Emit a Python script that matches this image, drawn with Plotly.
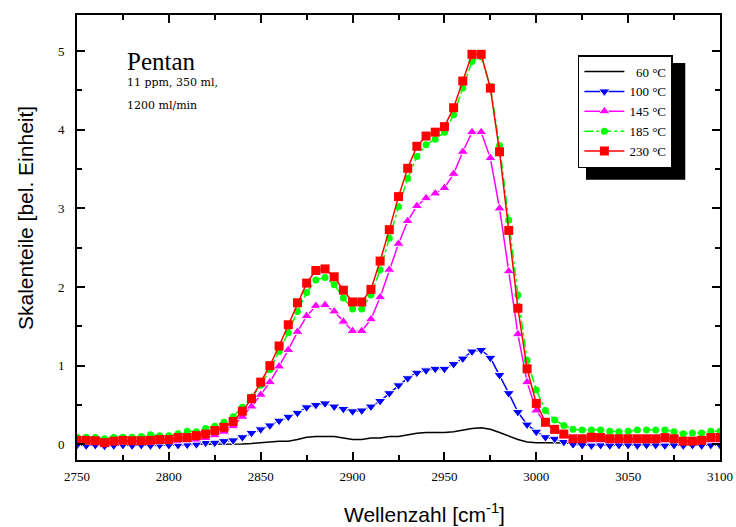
import plotly.graph_objects as go

wavenumber = [2750, 2755, 2760, 2765, 2770, 2775, 2780, 2785, 2790, 2795,
              2800, 2805, 2810, 2815, 2820, 2825, 2830, 2835, 2840, 2845,
              2850, 2855, 2860, 2865, 2870, 2875, 2880, 2885, 2890, 2895,
              2900, 2905, 2910, 2915, 2920, 2925, 2930, 2935, 2940, 2945,
              2950, 2955, 2960, 2965, 2970, 2975, 2980, 2985, 2990, 2995,
              3000, 3005, 3010, 3015, 3020, 3025, 3030, 3035, 3040, 3045,
              3050, 3055, 3060, 3065, 3070, 3075, 3080, 3085, 3090, 3095, 3100]

t60 = [0, 0, 0, 0, 0, 0, 0, 0, 0, 0,
       0, 0, 0, 0, 0, 0, 0, 0, 0.005, 0.01,
       0.02, 0.03, 0.04, 0.04, 0.06, 0.09, 0.10, 0.10, 0.10, 0.08,
       0.06, 0.06, 0.08, 0.08, 0.10, 0.10, 0.12, 0.14, 0.15, 0.15,
       0.15, 0.16, 0.18, 0.20, 0.21, 0.19, 0.15, 0.10, 0.06, 0.03,
       0.02, 0.02, 0.02, 0.02, 0.015, 0.01, 0.01, 0.01, 0.01, 0.01,
       0.01, 0.01, 0.01, 0.01, 0.01, 0.01, 0.01, 0.01, 0.01, 0.01, 0.01]

t100 = [-0.01, -0.015, -0.01, -0.02, -0.015, -0.01, -0.015, -0.01, -0.015, -0.01,
        -0.01, -0.01, -0.005, 0.0, 0.02, 0.02, 0.04, 0.05, 0.09, 0.145,
        0.19, 0.24, 0.30, 0.35, 0.40, 0.47, 0.50, 0.52, 0.48, 0.45,
        0.42, 0.43, 0.48, 0.55, 0.65, 0.75, 0.84, 0.91, 0.94, 0.96,
        0.96, 1.02, 1.09, 1.18, 1.20, 1.10, 0.88, 0.65, 0.41, 0.25,
        0.16, 0.09, 0.07, 0.03, 0.0, -0.01, -0.015, -0.01, -0.015, -0.01,
        -0.01, -0.015, -0.01, -0.01, -0.015, -0.01, -0.015, -0.01, -0.015, -0.01, -0.01]

t145 = [0.03, 0.03, 0.03, 0.02, 0.03, 0.03, 0.03, 0.03, 0.035, 0.035,
        0.04, 0.045, 0.05, 0.06, 0.08, 0.115, 0.16, 0.23, 0.35, 0.48,
        0.63, 0.79, 0.99, 1.20, 1.43, 1.63, 1.76, 1.77, 1.69, 1.56,
        1.44, 1.44, 1.59, 1.87, 2.22, 2.55, 2.84, 3.03, 3.13, 3.19,
        3.26, 3.44, 3.72, 3.97, 3.97, 3.64, 3.00, 2.20, 1.40, 0.79,
        0.43, 0.26, 0.18, 0.11, 0.07, 0.06, 0.05, 0.05, 0.05, 0.05,
        0.05, 0.05, 0.05, 0.05, 0.05, 0.05, 0.04, 0.04, 0.04, 0.05, 0.05]

t185 = [0.09, 0.09, 0.085, 0.07, 0.085, 0.09, 0.09, 0.10, 0.12, 0.11,
        0.11, 0.135, 0.165, 0.16, 0.20, 0.23, 0.28, 0.35, 0.47, 0.60,
        0.75, 0.95, 1.18, 1.42, 1.69, 1.93, 2.09, 2.12, 2.03, 1.86,
        1.72, 1.72, 1.90, 2.22, 2.62, 3.02, 3.38, 3.66, 3.81, 3.88,
        3.97, 4.19, 4.53, 4.87, 4.93, 4.55, 3.80, 2.85, 1.90, 1.07,
        0.69, 0.43, 0.31, 0.24, 0.19, 0.18, 0.18, 0.18, 0.165, 0.16,
        0.165, 0.18, 0.18, 0.18, 0.18, 0.16, 0.135, 0.145, 0.145, 0.165, 0.165]

t230 = [0.05, 0.05, 0.045, 0.02, 0.04, 0.05, 0.045, 0.045, 0.05, 0.06,
        0.06, 0.085, 0.085, 0.11, 0.13, 0.175, 0.215, 0.29, 0.42, 0.58,
        0.79, 1.00, 1.25, 1.52, 1.80, 2.05, 2.21, 2.23, 2.13, 1.96,
        1.81, 1.81, 1.97, 2.33, 2.73, 3.15, 3.51, 3.79, 3.92, 3.97,
        4.04, 4.28, 4.62, 4.96, 4.96, 4.53, 3.72, 2.72, 1.73, 0.96,
        0.52, 0.28, 0.19, 0.13, 0.07, 0.07, 0.09, 0.085, 0.07, 0.07,
        0.07, 0.07, 0.07, 0.07, 0.085, 0.07, 0.04, 0.04, 0.05, 0.085, 0.085]

series_names = ["\u00a0\u00a060 °C", "100 °C", "145 °C", "185 °C", "230 °C"]
x_tick_vals = [2750, 2800, 2850, 2900, 2950, 3000, 3050, 3100]
y_tick_vals = [0, 1, 2, 3, 4, 5]

SERIF = "Liberation Serif, Times New Roman, serif"
SANS = "Liberation Sans, Arial, sans-serif"

fig = go.Figure()
fig.add_trace(go.Scatter(x=wavenumber, y=t60, name=series_names[0], mode="lines",
                         line=dict(color="black", width=1.5)))
fig.add_trace(go.Scatter(x=wavenumber, y=t100, name=series_names[1], mode="lines+markers",
                         line=dict(color="#0000FF", width=1.5),
                         marker=dict(symbol="triangle-down", size=10, color="#0000FF",
                                     line=dict(color="white", width=1))))
fig.add_trace(go.Scatter(x=wavenumber, y=t145, name=series_names[2], mode="lines+markers",
                         line=dict(color="#FF00FF", width=1.5),
                         marker=dict(symbol="triangle-up", size=10, color="#FF00FF",
                                     line=dict(color="white", width=1))))
fig.add_trace(go.Scatter(x=wavenumber, y=t185, name=series_names[3], mode="lines+markers",
                         line=dict(color="#00FF00", width=1.5, dash="dashdot"),
                         marker=dict(symbol="circle", size=7, color="#00FF00")))
fig.add_trace(go.Scatter(x=wavenumber, y=t230, name=series_names[4], mode="lines+markers",
                         line=dict(color="#FF0000", width=1.5),
                         marker=dict(symbol="square", size=9, color="#FF0000")))

axis_common = dict(showline=True, linewidth=2, linecolor="black", mirror="allticks",
                   ticks="inside", ticklen=8, tickwidth=1.5, tickcolor="black",
                   showgrid=False, zeroline=False, automargin=False,
                   tickfont=dict(family=SERIF, size=13, color="black"))

fig.update_xaxes(range=[2750, 3100], tickvals=x_tick_vals,
                 ticktext=[str(v) for v in x_tick_vals],
                 minor=dict(dtick=25, tick0=2750, ticks="inside", ticklen=5,
                            tickwidth=1.5, tickcolor="black", showgrid=False),
                 ticklabelstandoff=3, **axis_common)
fig.update_yaxes(range=[-0.2, 5.46], tickvals=y_tick_vals,
                 ticktext=[str(v) for v in y_tick_vals],
                 minor=dict(dtick=0.5, tick0=0, ticks="inside", ticklen=5,
                            tickwidth=1.5, tickcolor="black", showgrid=False),
                 ticklabelstandoff=8, **axis_common)

fig.update_layout(
    width=736, height=527, autosize=False,
    margin=dict(l=77, r=16, t=15, b=67, autoexpand=False),
    paper_bgcolor="white", plot_bgcolor="white",
    font=dict(family=SERIF, color="black"),
    legend=dict(x=0.779, y=0.910, xanchor="left", yanchor="top",
                bgcolor="white", bordercolor="black", borderwidth=1.5,
                font=dict(family=SERIF, size=13, color="black"),
                itemwidth=40, tracegroupgap=0),
    shapes=[dict(type="rect", xref="paper", yref="paper",
                 x0=0.7916, x1=0.946, y0=0.630, y1=0.892,
                 fillcolor="black", line=dict(width=0), layer="above")],
    annotations=[
        dict(text="Pentan", xref="paper", yref="paper", x=(125 - 77) / 643, y=(460 - 62) / 445,
             xanchor="left", yanchor="middle", showarrow=False,
             font=dict(family=SERIF, size=25, color="black")),
        dict(text="11 ppm, 350 ml,", xref="paper", yref="paper", x=(125 - 77) / 643, y=(460 - 83) / 445,
             xanchor="left", yanchor="middle", showarrow=False,
             font=dict(family="DejaVu Serif, serif", size=11, color="black")),
        dict(text="1200 ml/min", xref="paper", yref="paper", x=(125 - 77) / 643, y=(460 - 105) / 445,
             xanchor="left", yanchor="middle", showarrow=False,
             font=dict(family="DejaVu Serif, serif", size=11, color="black")),
        dict(text="Skalenteile [bel. Einheit]", xref="paper", yref="paper",
             x=(25 - 77) / 643, y=(460 - 218) / 445, textangle=-90,
             xanchor="center", yanchor="middle", showarrow=False,
             font=dict(family=SANS, size=21, color="black")),
        dict(text="Wellenzahl [cm<sup>-1</sup>]", xref="paper", yref="paper",
             x=(424 - 77) / 643, y=(460 - 513) / 445,
             xanchor="center", yanchor="middle", showarrow=False,
             font=dict(family=SANS, size=21, color="black")),
    ],
)

fig.write_html("out.html", config={"displayModeBar": False},
               post_script="document.body.style.margin='0';document.body.style.overflow='hidden';")
